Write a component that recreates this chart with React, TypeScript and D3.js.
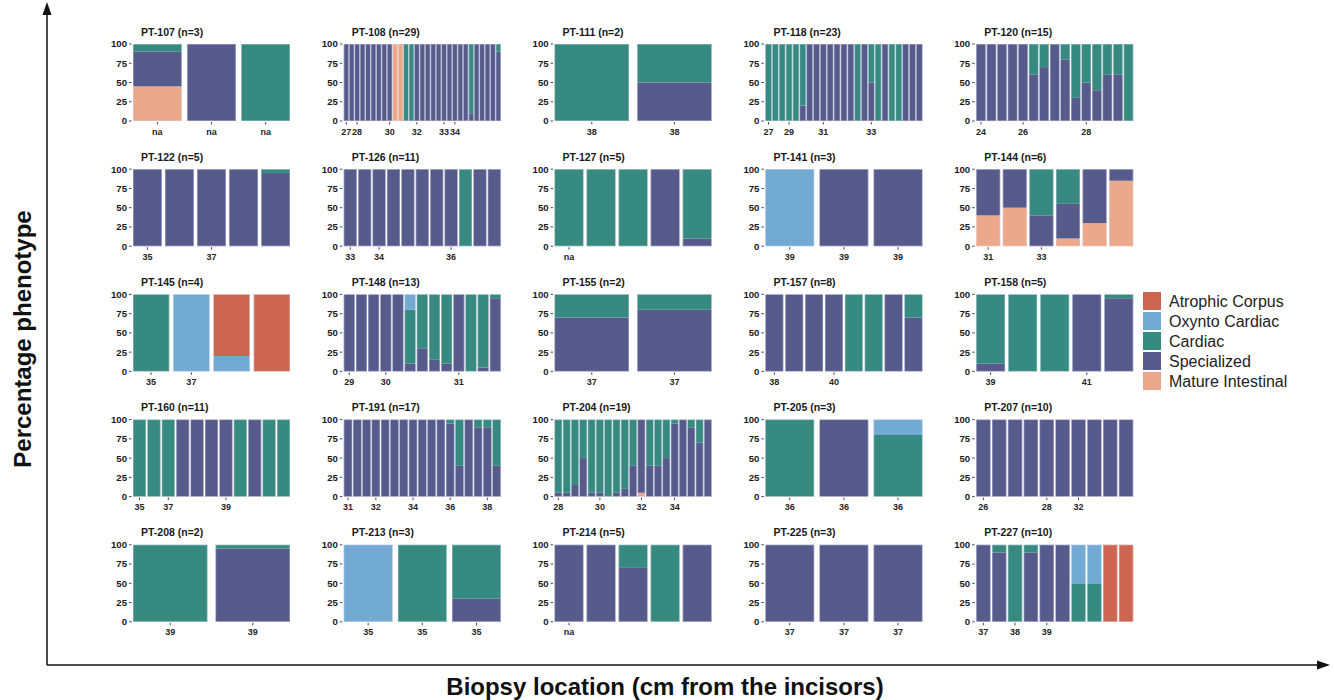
import React from "react";
import * as d3 from "d3";

// stack order bottom -> top
const KEYS = ["mature", "specialized", "cardiac", "oxynto", "atrophic"];
const LABELS = ["Mature Intestinal", "Specialized", "Cardiac", "Oxynto Cardiac", "Atrophic Corpus"];
const COLORS = ["#eca88b", "#565b8b", "#378a80", "#73aad3", "#cd6651"];
const LEGEND_ORDER = [4, 3, 2, 1, 0];
const Y_TICKS = [0, 25, 50, 75, 100];

const PANEL_IDS = [
  "PT-107", "PT-108", "PT-111", "PT-118", "PT-120",
  "PT-122", "PT-126", "PT-127", "PT-141", "PT-144",
  "PT-145", "PT-148", "PT-155", "PT-157", "PT-158",
  "PT-160", "PT-191", "PT-204", "PT-205", "PT-207",
  "PT-208", "PT-213", "PT-214", "PT-225", "PT-227",
];
const PANEL_N = [3, 29, 2, 23, 15, 5, 11, 5, 3, 6, 4, 13, 2, 8, 5, 11, 17, 19, 3, 10, 2, 3, 5, 3, 10];

// each bar: [mature, specialized, cardiac, oxynto, atrophic] (%)
const PT107 = [[45, 45, 10, 0, 0], [0, 100, 0, 0, 0], [0, 0, 100, 0, 0]];
const PT108 = [
  [0, 100, 0, 0, 0], [0, 100, 0, 0, 0], [0, 100, 0, 0, 0], [0, 100, 0, 0, 0], [0, 100, 0, 0, 0],
  [0, 100, 0, 0, 0], [0, 100, 0, 0, 0], [0, 100, 0, 0, 0], [0, 100, 0, 0, 0],
  [100, 0, 0, 0, 0], [100, 0, 0, 0, 0],
  [0, 0, 100, 0, 0], [0, 0, 100, 0, 0],
  [0, 100, 0, 0, 0], [0, 100, 0, 0, 0], [0, 100, 0, 0, 0], [0, 100, 0, 0, 0], [0, 100, 0, 0, 0],
  [0, 100, 0, 0, 0], [0, 100, 0, 0, 0], [0, 100, 0, 0, 0], [0, 100, 0, 0, 0], [0, 100, 0, 0, 0],
  [0, 10, 90, 0, 0],
  [0, 100, 0, 0, 0], [0, 100, 0, 0, 0], [0, 100, 0, 0, 0], [0, 100, 0, 0, 0],
  [0, 90, 10, 0, 0],
];
const PT111 = [[0, 0, 100, 0, 0], [0, 50, 50, 0, 0]];
const PT118 = [
  [0, 0, 100, 0, 0], [0, 0, 100, 0, 0], [0, 0, 100, 0, 0], [0, 0, 100, 0, 0], [0, 0, 100, 0, 0],
  [0, 20, 80, 0, 0],
  [0, 100, 0, 0, 0], [0, 100, 0, 0, 0], [0, 100, 0, 0, 0], [0, 100, 0, 0, 0], [0, 100, 0, 0, 0],
  [0, 100, 0, 0, 0], [0, 100, 0, 0, 0],
  [0, 0, 100, 0, 0], [0, 100, 0, 0, 0], [0, 50, 50, 0, 0], [0, 0, 100, 0, 0], [0, 100, 0, 0, 0],
  [0, 0, 100, 0, 0], [0, 0, 100, 0, 0], [0, 100, 0, 0, 0], [0, 100, 0, 0, 0], [0, 100, 0, 0, 0],
];
const PT120 = [
  [0, 100, 0, 0, 0], [0, 100, 0, 0, 0], [0, 100, 0, 0, 0], [0, 100, 0, 0, 0], [0, 100, 0, 0, 0],
  [0, 60, 40, 0, 0], [0, 70, 30, 0, 0], [0, 100, 0, 0, 0], [0, 80, 20, 0, 0], [0, 30, 70, 0, 0],
  [0, 50, 50, 0, 0], [0, 40, 60, 0, 0], [0, 60, 40, 0, 0], [0, 60, 40, 0, 0], [0, 0, 100, 0, 0],
];
const PT122 = [[0, 100, 0, 0, 0], [0, 100, 0, 0, 0], [0, 100, 0, 0, 0], [0, 100, 0, 0, 0], [0, 95, 5, 0, 0]];
const PT126 = [
  [0, 100, 0, 0, 0], [0, 100, 0, 0, 0], [0, 100, 0, 0, 0], [0, 100, 0, 0, 0], [0, 100, 0, 0, 0],
  [0, 100, 0, 0, 0], [0, 100, 0, 0, 0], [0, 100, 0, 0, 0], [0, 0, 100, 0, 0], [0, 100, 0, 0, 0],
  [0, 100, 0, 0, 0],
];
const PT127 = [[0, 0, 100, 0, 0], [0, 0, 100, 0, 0], [0, 0, 100, 0, 0], [0, 100, 0, 0, 0], [0, 10, 90, 0, 0]];
const PT141 = [[0, 0, 0, 100, 0], [0, 100, 0, 0, 0], [0, 100, 0, 0, 0]];
const PT144 = [[40, 60, 0, 0, 0], [50, 50, 0, 0, 0], [0, 40, 60, 0, 0], [10, 45, 45, 0, 0], [30, 70, 0, 0, 0], [85, 15, 0, 0, 0]];
const PT145 = [[0, 0, 100, 0, 0], [0, 0, 0, 100, 0], [0, 0, 0, 20, 80], [0, 0, 0, 0, 100]];
const PT148 = [
  [0, 100, 0, 0, 0], [0, 100, 0, 0, 0], [0, 100, 0, 0, 0], [0, 100, 0, 0, 0], [0, 100, 0, 0, 0],
  [0, 10, 70, 20, 0], [0, 30, 70, 0, 0], [0, 15, 85, 0, 0], [0, 10, 90, 0, 0], [0, 100, 0, 0, 0],
  [0, 0, 100, 0, 0], [0, 5, 95, 0, 0], [0, 95, 5, 0, 0],
];
const PT155 = [[0, 70, 30, 0, 0], [0, 80, 20, 0, 0]];
const PT157 = [
  [0, 100, 0, 0, 0], [0, 100, 0, 0, 0], [0, 100, 0, 0, 0], [0, 100, 0, 0, 0],
  [0, 0, 100, 0, 0], [0, 0, 100, 0, 0], [0, 100, 0, 0, 0], [0, 70, 30, 0, 0],
];
const PT158 = [[0, 10, 90, 0, 0], [0, 0, 100, 0, 0], [0, 0, 100, 0, 0], [0, 100, 0, 0, 0], [0, 95, 5, 0, 0]];
const PT160 = [
  [0, 0, 100, 0, 0], [0, 0, 100, 0, 0], [0, 0, 100, 0, 0], [0, 100, 0, 0, 0], [0, 100, 0, 0, 0],
  [0, 100, 0, 0, 0], [0, 100, 0, 0, 0], [0, 0, 100, 0, 0], [0, 100, 0, 0, 0], [0, 0, 100, 0, 0],
  [0, 0, 100, 0, 0],
];
const PT191 = [
  [0, 100, 0, 0, 0], [0, 100, 0, 0, 0], [0, 100, 0, 0, 0], [0, 100, 0, 0, 0], [0, 100, 0, 0, 0],
  [0, 100, 0, 0, 0], [0, 100, 0, 0, 0], [0, 100, 0, 0, 0], [0, 100, 0, 0, 0], [0, 100, 0, 0, 0],
  [0, 100, 0, 0, 0], [0, 95, 5, 0, 0], [0, 40, 60, 0, 0], [0, 100, 0, 0, 0], [0, 90, 10, 0, 0],
  [0, 90, 10, 0, 0], [0, 40, 60, 0, 0],
];
const PT204 = [
  [0, 5, 95, 0, 0], [0, 5, 95, 0, 0], [0, 15, 85, 0, 0], [0, 50, 50, 0, 0], [0, 5, 95, 0, 0],
  [0, 5, 95, 0, 0], [0, 0, 100, 0, 0], [0, 5, 95, 0, 0], [0, 10, 90, 0, 0], [0, 40, 60, 0, 0],
  [5, 95, 0, 0, 0], [0, 40, 60, 0, 0], [0, 40, 60, 0, 0], [0, 50, 50, 0, 0], [0, 95, 5, 0, 0],
  [0, 100, 0, 0, 0], [0, 90, 10, 0, 0], [0, 70, 30, 0, 0], [0, 100, 0, 0, 0],
];
const PT205 = [[0, 0, 100, 0, 0], [0, 100, 0, 0, 0], [0, 0, 80, 20, 0]];
const PT207 = [
  [0, 100, 0, 0, 0], [0, 100, 0, 0, 0], [0, 100, 0, 0, 0], [0, 100, 0, 0, 0], [0, 100, 0, 0, 0],
  [0, 100, 0, 0, 0], [0, 100, 0, 0, 0], [0, 100, 0, 0, 0], [0, 100, 0, 0, 0], [0, 100, 0, 0, 0],
];
const PT208 = [[0, 0, 100, 0, 0], [0, 95, 5, 0, 0]];
const PT213 = [[0, 0, 0, 100, 0], [0, 0, 100, 0, 0], [0, 30, 70, 0, 0]];
const PT214 = [[0, 100, 0, 0, 0], [0, 100, 0, 0, 0], [0, 70, 30, 0, 0], [0, 0, 100, 0, 0], [0, 100, 0, 0, 0]];
const PT225 = [[0, 100, 0, 0, 0], [0, 100, 0, 0, 0], [0, 100, 0, 0, 0]];
const PT227 = [
  [0, 100, 0, 0, 0], [0, 90, 10, 0, 0], [0, 0, 100, 0, 0], [0, 90, 10, 0, 0], [0, 100, 0, 0, 0],
  [0, 100, 0, 0, 0], [0, 0, 50, 50, 0], [0, 0, 50, 50, 0], [0, 0, 0, 0, 100], [0, 0, 0, 0, 100],
];

// x tick labels: [bar index, label]
const T107 = [[0, "na"], [1, "na"], [2, "na"]];
const T108 = [[0, "27"], [2, "28"], [8, "30"], [13, "32"], [18, "33"], [20, "34"]];
const T111 = [[0, "38"], [1, "38"]];
const T118 = [[0, "27"], [3, "29"], [8, "31"], [15, "33"]];
const T120 = [[0, "24"], [4, "26"], [10, "28"]];
const T122 = [[0, "35"], [2, "37"]];
const T126 = [[0, "33"], [2, "34"], [7, "36"]];
const T127 = [[0, "na"]];
const T141 = [[0, "39"], [1, "39"], [2, "39"]];
const T144 = [[0, "31"], [2, "33"]];
const T145 = [[0, "35"], [1, "37"]];
const T148 = [[0, "29"], [3, "30"], [9, "31"]];
const T155 = [[0, "37"], [1, "37"]];
const T157 = [[0, "38"], [3, "40"]];
const T158 = [[0, "39"], [3, "41"]];
const T160 = [[0, "35"], [2, "37"], [6, "39"]];
const T191 = [[0, "31"], [3, "32"], [7, "34"], [11, "36"], [15, "38"]];
const T204 = [[0, "28"], [5, "30"], [10, "32"], [14, "34"]];
const T205 = [[0, "36"], [1, "36"], [2, "36"]];
const T207 = [[0, "26"], [4, "28"], [6, "32"]];
const T208 = [[0, "39"], [1, "39"]];
const T213 = [[0, "35"], [1, "35"], [2, "35"]];
const T214 = [[0, "na"]];
const T225 = [[0, "37"], [1, "37"], [2, "37"]];
const T227 = [[0, "37"], [2, "38"], [4, "39"]];

const PANEL_BARS = [
  PT107, PT108, PT111, PT118, PT120, PT122, PT126, PT127, PT141, PT144,
  PT145, PT148, PT155, PT157, PT158, PT160, PT191, PT204, PT205, PT207,
  PT208, PT213, PT214, PT225, PT227,
];
const PANEL_TICKS = [
  T107, T108, T111, T118, T120, T122, T126, T127, T141, T144,
  T145, T148, T155, T157, T158, T160, T191, T204, T205, T207,
  T208, T213, T214, T225, T227,
];

const FONT = "'Liberation Sans', Arial, Helvetica, sans-serif";
const GRID_X0 = 133;
const GRID_DX = 210.8;
const GRID_Y0 = 44;
const GRID_DY = 125.2;
const PW = 157;
const PH = 77;

function Panel({ idx }: { idx: number }) {
  const bars = PANEL_BARS[idx] as number[][];
  const ticks = PANEL_TICKS[idx] as [number, string][];
  const col = idx % 5;
  const row = Math.floor(idx / 5);
  const x0 = GRID_X0 + col * GRID_DX;
  const y0 = GRID_Y0 + row * GRID_DY;
  const x = d3
    .scaleBand<number>()
    .domain(d3.range(bars.length))
    .range([0, PW])
    .paddingInner(0.1)
    .paddingOuter(0);
  const y = d3.scaleLinear().domain([0, 100]).range([PH, 0]);
  const rows = bars.map((b) => {
    const o: Record<string, number> = {};
    KEYS.forEach((k, i) => (o[k] = b[i]));
    return o;
  });
  const series = d3.stack<Record<string, number>>().keys(KEYS)(rows);
  const bw = x.bandwidth();
  return (
    <g transform={`translate(${x0},${y0})`}>
      <text
        x={8}
        y={-8.5}
        fontFamily={FONT}
        fontWeight="bold"
        fontSize={10.5}
        fill="#1a1a1a"
      >
        {`${PANEL_IDS[idx]} (n=${PANEL_N[idx]})`}
      </text>
      {Y_TICKS.map((t) => (
        <g key={t} transform={`translate(0,${y(t)})`}>
          <line x1={-4} x2={-1.5} stroke="#333" strokeWidth={0.9} />
          <text
            x={-6}
            y={3.4}
            textAnchor="end"
            fontFamily={FONT}
            fontWeight="bold"
            fontSize={9.6}
            fill="#1a1a1a"
          >
            {t}
          </text>
        </g>
      ))}
      {series.map((s, si) => (
        <g key={s.key} fill={COLORS[si]}>
          {s.map((d, bi) =>
            d[1] - d[0] > 0 ? (
              <rect
                key={bi}
                x={x(bi)}
                y={y(d[1])}
                width={bw}
                height={y(d[0]) - y(d[1])}
              />
            ) : null
          )}
        </g>
      ))}
      {bars.map((_, bi) => (
        <rect
          key={`o${bi}`}
          x={(x(bi) as number) + 0.25}
          y={y(100) + 0.25}
          width={bw - 0.5}
          height={PH - 0.5}
          fill="none"
          stroke="#dcdcf0"
          strokeOpacity={0.7}
          strokeWidth={0.5}
        />
      ))}
      {ticks.map(([bi, lab], i) => {
        const cx = (x(bi) as number) + bw / 2;
        return (
          <g key={i} transform={`translate(${cx},${PH})`}>
            <line y1={1} y2={3.5} stroke="#333" strokeWidth={0.9} />
            <text
              y={13.5}
              textAnchor="middle"
              fontFamily={FONT}
              fontWeight="bold"
              fontSize={9}
              fill="#262626"
            >
              {lab}
            </text>
          </g>
        );
      })}
    </g>
  );
}

export default function App() {
  const W = 1334;
  const H = 700;
  return (
    <svg
      width={W}
      height={H}
      style={{ position: "absolute", left: 0, top: 0, display: "block", background: "#fff" }}
    >
      {/* main axes with arrows */}
      <line x1={47} y1={665} x2={47} y2={12} stroke="#111" strokeWidth={1.5} />
      <path d="M47,2 L42.5,15 L51.5,15 Z" fill="#111" />
      <line x1={47} y1={665} x2={1320} y2={665} stroke="#111" strokeWidth={1.5} />
      <path d="M1330,665 L1317,660.5 L1317,669.5 Z" fill="#111" />
      <text
        transform="translate(22,339) rotate(-90)"
        textAnchor="middle"
        dominantBaseline="central"
        fontFamily={FONT}
        fontWeight="bold"
        fontSize={24}
        fill="#111"
      >
        Percentage phenotype
      </text>
      <text
        x={665}
        y={695}
        textAnchor="middle"
        fontFamily={FONT}
        fontWeight="bold"
        fontSize={24}
        fill="#111"
      >
        Biopsy location (cm from the incisors)
      </text>

      {PANEL_IDS.map((_, i) => (
        <Panel key={i} idx={i} />
      ))}

      {/* legend */}
      <g transform="translate(1143,292)">
        {LEGEND_ORDER.map((ki, i) => (
          <g key={ki} transform={`translate(0,${i * 20})`}>
            <rect width={18} height={18} fill={COLORS[ki]} />
            <text x={26} y={14.5} fontFamily={FONT} fontSize={16} fill="#222">
              {LABELS[ki]}
            </text>
          </g>
        ))}
      </g>
    </svg>
  );
}
